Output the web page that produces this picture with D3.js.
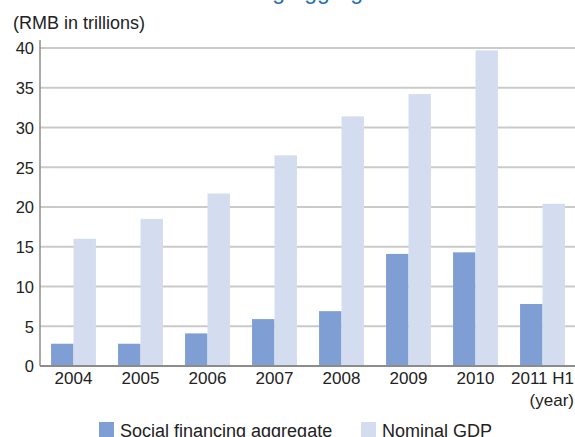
<!DOCTYPE html>
<html>
<head>
    <meta charset="UTF-8">
    <title>Social financing aggregate and nominal GDP</title>
    <script src="https://d3js.org/d3.v7.min.js"></script>
    <style>
        body {
            margin: 0;
            padding: 0;
            background: #fff;
        }
        svg text {
            font-family: "Liberation Sans", Arial, sans-serif;
            fill: #222;
        }
    </style>
</head>
<body>
    <svg id="chart" width="575" height="437"></svg>

    <script>
        const years = ["2004", "2005", "2006", "2007", "2008", "2009", "2010", "2011 H1"];
        const socialFinancing = [2.8, 2.8, 4.1, 5.9, 6.9, 14.1, 14.3, 7.8];
        const nominalGDP = [16.0, 18.5, 21.7, 26.5, 31.4, 34.2, 39.7, 20.4];
        const yTicks = [0, 5, 10, 15, 20, 25, 30, 35, 40];
        const seriesNames = ["Social financing aggregate", "Nominal GDP"];
        const colors = ["#7f9fd4", "#d4ddef"];

        const tableData = years.map((year, i) => ({
            year,
            values: [socialFinancing[i], nominalGDP[i]]
        }));

        const margin = { left: 40, right: 0, top: 48, bottom: 71 };
        const svgWidth = 575, svgHeight = 437;

        const svg = d3.select("#chart");

        const x = d3.scaleBand()
            .domain(years)
            .range([margin.left, margin.left + 67 * years.length])
            .paddingInner(0.33)
            .paddingOuter(0.165);

        const x1 = d3.scaleBand()
            .domain([0, 1])
            .range([0, x.bandwidth()]);

        const y = d3.scaleLinear()
            .domain([0, 40])
            .range([svgHeight - margin.bottom, margin.top]);

        // title, mostly above the visible area
        svg.append("text")
            .attr("x", 124)
            .attr("y", -1)
            .style("font-size", "23px")
            .style("fill", "#1d6db5")
            .text("Social financing aggregate and nominal GDP");

        // gridlines
        svg.append("g")
            .selectAll("line")
            .data(yTicks.filter(d => d > 0))
            .enter()
            .append("line")
            .attr("x1", margin.left)
            .attr("x2", svgWidth)
            .attr("y1", d => y(d))
            .attr("y2", d => y(d))
            .attr("stroke", "#cacaca")
            .attr("stroke-width", 2);

        // bars
        const groups = svg.append("g")
            .selectAll("g")
            .data(tableData)
            .enter()
            .append("g")
            .attr("transform", d => `translate(${x(d.year)},0)`);

        groups.selectAll("rect")
            .data(d => d.values)
            .enter()
            .append("rect")
            .attr("x", (d, i) => x1(i))
            .attr("y", d => y(d))
            .attr("width", x1.bandwidth())
            .attr("height", d => y(0) - y(d))
            .attr("fill", (d, i) => colors[i]);

        // y axis
        const yAxis = svg.append("g")
            .attr("transform", `translate(${margin.left},0)`)
            .call(d3.axisLeft(y).tickValues(yTicks).tickSize(0).tickPadding(6));
        yAxis.select(".domain")
            .attr("d", `M0,${y(0)}V${margin.top - 8}`)
            .attr("stroke", "#8c8c8c")
            .attr("stroke-width", 1.5);
        yAxis.selectAll("text")
            .style("font-size", "16.5px")
            .attr("dy", "0.35em")
            .style("fill", "#222");

        // x axis
        const xAxis = svg.append("g")
            .attr("transform", `translate(0,${y(0)})`)
            .call(d3.axisBottom(x).tickSize(0).tickPadding(6));
        xAxis.select(".domain")
            .attr("d", `M${margin.left},0H${svgWidth}`)
            .attr("stroke", "#8c8c8c")
            .attr("stroke-width", 2);
        xAxis.selectAll("text")
            .style("font-size", "17px")
            .style("fill", "#222");

        // axis captions
        svg.append("text")
            .attr("x", 13)
            .attr("y", 29)
            .style("font-size", "18px")
            .text("(RMB in trillions)");

        svg.append("text")
            .attr("x", 574)
            .attr("y", 406)
            .attr("text-anchor", "end")
            .style("font-size", "17px")
            .text("(year)");

        // legend
        const legendX = [99, 361];
        const legend = svg.append("g")
            .selectAll("g")
            .data(seriesNames)
            .enter()
            .append("g")
            .attr("transform", (d, i) => `translate(${legendX[i]},422)`);

        legend.append("rect")
            .attr("width", 15)
            .attr("height", 15)
            .attr("fill", (d, i) => colors[i]);

        legend.append("text")
            .attr("x", 21)
            .attr("y", 15)
            .style("font-size", "18px")
            .text(d => d);
    </script>
</body>
</html>
